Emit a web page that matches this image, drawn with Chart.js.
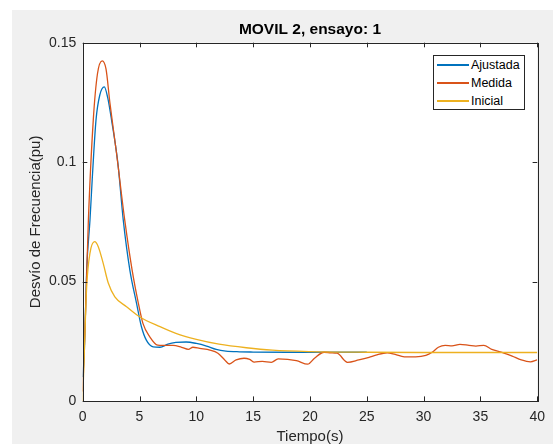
<!DOCTYPE html>
<html>
<head>
<meta charset="utf-8">
<script src="https://cdn.jsdelivr.net/npm/chart.js@4.4.1/dist/chart.umd.min.js"></script>
<style>
  html, body { margin: 0; padding: 0; background: #fff; }
  #wrap { position: relative; width: 553px; height: 444px; }
  #legend {
    position: absolute; left: 433px; top: 55px; width: 90px; height: 53px;
    background: #fff; border: 1px solid #262626;
    font: 12.5px "Liberation Sans", Arial, sans-serif; color: #000;
  }
  #legend .row { position: absolute; left: 3px; height: 18px; display: flex; align-items: center; }
  #legend .swatch { display: inline-block; width: 32px; height: 1.5px; margin-right: 2px; }
</style>
</head>
<body>
<div id="wrap">
  <canvas id="chart" width="553" height="444"></canvas>
  <div id="legend"></div>
</div>
<script>
// ==== DATA ====
const tAjustada = [0, 0.14, 0.35, 0.64, 0.84, 1.17, 1.5, 1.9, 2.2, 2.54, 3.1, 3.57, 4.15, 4.74, 5.17, 5.6, 6.2, 6.8, 7.5, 8.2, 9.1, 10.0, 10.9, 11.75, 12.6, 13.8, 15, 18, 21, 25];
const vAjustada = [0.01, 0.02, 0.0548, 0.0757, 0.093, 0.1176, 0.128, 0.1315, 0.127, 0.1176, 0.0994, 0.0757, 0.0548, 0.0409, 0.0311, 0.0255, 0.0227, 0.0225, 0.0238, 0.0245, 0.0247, 0.0241, 0.023, 0.0216, 0.0209, 0.0206, 0.0205, 0.0204, 0.0204, 0.0204];

const tMedida = [0, 0.2, 0.5, 0.93, 1.3, 1.72, 2.05, 2.4, 2.98, 3.7, 4.35, 4.9, 5.3, 5.9, 6.6, 7.07, 7.95, 8.7, 9.3, 9.7, 10.3, 11.2, 11.9, 12.5, 12.9, 13.5, 14.2, 14.7, 15.1, 15.8, 16.6, 17.2, 18.8, 19.8, 20.4, 21.25, 21.85, 22.4, 23.3, 24.3, 25.2, 25.8, 26.8, 27.5, 28.3, 29.3, 30.2, 30.75, 31.3, 31.9, 32.5, 33.2, 34.0, 34.6, 35.3, 36.0, 36.9, 37.8, 38.6, 39.4, 40];
const vMedida = [0.004, 0.03, 0.0757, 0.1176, 0.137, 0.1424, 0.139, 0.1246, 0.1036, 0.0757, 0.0548, 0.0409, 0.0325, 0.0269, 0.0234, 0.0233, 0.0233, 0.0225, 0.0216, 0.0225, 0.022, 0.0213, 0.02, 0.0172, 0.0155, 0.0172, 0.0179, 0.0174, 0.0163, 0.0166, 0.0162, 0.0176, 0.0169, 0.0154, 0.0179, 0.0204, 0.0202, 0.02, 0.0162, 0.0172, 0.0183, 0.0192, 0.0202, 0.0195, 0.0185, 0.0185, 0.0191, 0.0204, 0.0225, 0.0233, 0.0231, 0.0237, 0.0233, 0.023, 0.0233, 0.0216, 0.0204, 0.0188, 0.0172, 0.0164, 0.0172];

const tInicial = [0, 0.14, 0.35, 0.64, 1.05, 1.37, 1.8, 2.25, 2.83, 3.86, 5.0, 6.8, 8.2, 10, 12, 14.4, 16.7, 20, 25, 30, 40];
const vInicial = [0, 0.02, 0.0478, 0.0619, 0.0667, 0.0646, 0.0577, 0.0494, 0.0436, 0.0395, 0.0353, 0.0311, 0.0283, 0.0258, 0.0238, 0.0223, 0.0213, 0.0207, 0.0204, 0.0203, 0.0203];

const seriesNames = ["Ajustada", "Medida", "Inicial"];
const seriesColors = ["#0072BD", "#D95319", "#EDB120"];
const xTicks = [0, 5, 10, 15, 20, 25, 30, 35, 40];
const yTicks = [0, 0.05, 0.1, 0.15];

const FONT = '"Liberation Sans", Arial, sans-serif';
const AXIS = "#262626";

function toPoints(t, v) {
  return t.map((x, i) => ({ x, y: v[i] }));
}

const seriesData = [
  toPoints(tAjustada, vAjustada),
  toPoints(tMedida, vMedida),
  toPoints(tInicial, vInicial)
];

// ==== PLUGINS ====
const figureBg = {
  id: "figureBg",
  beforeDraw(chart) {
    const { ctx, chartArea: a } = chart;
    ctx.save();
    ctx.fillStyle = "#f0f0f0";
    ctx.fillRect(12, 10, chart.width - 12, chart.height - 10);
    ctx.fillStyle = "#fff";
    ctx.fillRect(a.left, a.top, a.right - a.left, a.bottom - a.top);
    ctx.restore();
  }
};

const boxTicks = {
  id: "boxTicks",
  afterDraw(chart) {
    const { ctx, chartArea: a, scales } = chart;
    const len = 4.6;
    ctx.save();
    ctx.strokeStyle = AXIS;
    ctx.lineWidth = 1;
    ctx.beginPath();
    xTicks.forEach(v => {
      const px = Math.round(scales.x.getPixelForValue(v)) + 0.5;
      ctx.moveTo(px, a.bottom); ctx.lineTo(px, a.bottom - len);
      ctx.moveTo(px, a.top); ctx.lineTo(px, a.top + len);
    });
    yTicks.forEach(v => {
      const py = Math.round(scales.y.getPixelForValue(v)) + 0.5;
      ctx.moveTo(a.left, py); ctx.lineTo(a.left + len, py);
      ctx.moveTo(a.right, py); ctx.lineTo(a.right - len, py);
    });
    ctx.stroke();
    ctx.strokeRect(Math.round(a.left) + 0.5, Math.round(a.top) + 0.5,
      Math.round(a.right - a.left), Math.round(a.bottom - a.top));
    ctx.restore();
  }
};

// ==== CHART ====
const chart = new Chart(document.getElementById("chart"), {
  type: "line",
  data: {
    datasets: seriesNames.map((name, i) => ({
      label: name,
      data: seriesData[i],
      borderColor: seriesColors[i],
      backgroundColor: seriesColors[i],
      borderWidth: 1.3,
      pointRadius: 0,
      fill: false,
      cubicInterpolationMode: "monotone",
      order: 3 - i
    }))
  },
  options: {
    responsive: false,
    animation: false,
    layout: { padding: { left: 0, right: 14.3, top: 0, bottom: 0 } },
    plugins: {
      legend: { display: false },
      tooltip: { enabled: false },
      title: {
        display: true,
        text: "MOVIL 2, ensayo: 1",
        fullSize: false,
        color: "#000",
        font: { family: FONT, size: 15.5, weight: "bold" },
        padding: { top: 20.2, bottom: 3.9 }
      }
    },
    scales: {
      x: {
        type: "linear",
        min: 0,
        max: 40,
        afterBuildTicks: s => { s.ticks = xTicks.map(v => ({ value: v })); },
        afterFit: s => { s.height = 43; },
        grid: { display: false, drawTicks: false },
        border: { display: false },
        ticks: { color: AXIS, font: { family: FONT, size: 14 }, padding: 8, maxRotation: 0, autoSkip: false, callback: v => String(v) },
        title: {
          display: true, text: "Tiempo(s)", color: AXIS,
          font: { family: FONT, size: 15, lineHeight: 1 },
          padding: { top: 0, bottom: 0 }
        }
      },
      y: {
        type: "linear",
        min: 0,
        max: 0.15,
        afterBuildTicks: s => { s.ticks = yTicks.map(v => ({ value: v })); },
        afterFit: s => { s.width = 82.7; },
        grid: { display: false, drawTicks: false },
        border: { display: false },
        ticks: { color: AXIS, font: { family: FONT, size: 14 }, padding: 6.5, autoSkip: false, callback: v => String(v) },
        title: {
          display: true, text: "Desvío de Frecuencia(pu)", color: AXIS,
          font: { family: FONT, size: 15 },
          padding: { top: 27, bottom: 0 }
        }
      }
    }
  },
  plugins: [figureBg, boxTicks]
});

// ==== LEGEND ====
const legend = document.getElementById("legend");
seriesNames.forEach((name, i) => {
  const row = document.createElement("div");
  row.className = "row";
  row.style.top = (i * 18) + "px";
  row.innerHTML = `<span class="swatch" style="background:${seriesColors[i]}"></span><span>${name}</span>`;
  legend.appendChild(row);
});
</script>
</body>
</html>
